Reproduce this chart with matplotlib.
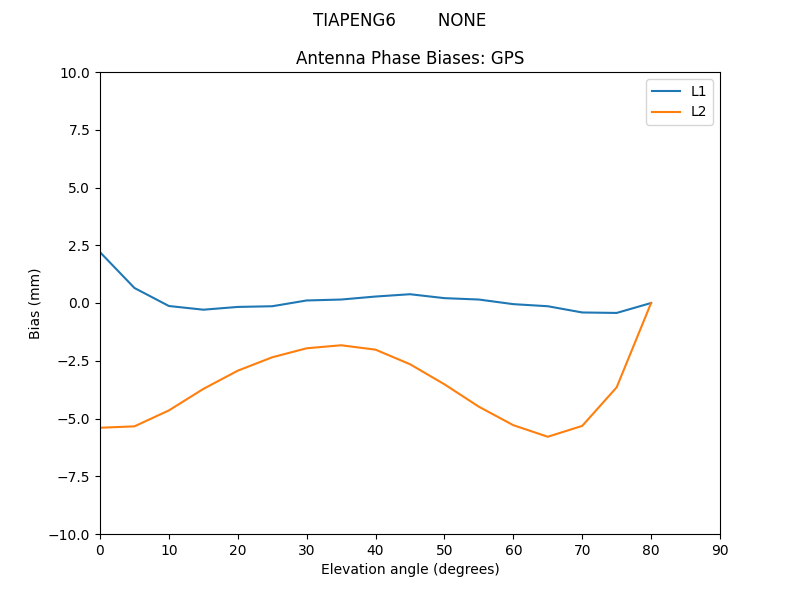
import numpy as np
import matplotlib
matplotlib.use("Agg")
import matplotlib.pyplot as plt

# elevation angles and biases (mm)
elev = [0, 5, 10, 15, 20, 25, 30, 35, 40, 45, 50, 55, 60, 65, 70, 75, 80]
l1 = [2.20, 0.65, -0.13, -0.29, -0.17, -0.14, 0.11, 0.15, 0.28, 0.38,
      0.21, 0.15, -0.05, -0.14, -0.41, -0.43, 0.0]
l2 = [-5.40, -5.34, -4.65, -3.72, -2.93, -2.35, -1.96, -1.83, -2.02, -2.65,
      -3.52, -4.49, -5.29, -5.79, -5.32, -3.65, 0.0]

fig = plt.figure(figsize=(8, 6), dpi=100)
fig.suptitle("TIAPENG6        NONE")
ax = fig.add_subplot(111)
ax.plot(elev, l1, label="L1")
ax.plot(elev, l2, label="L2")
ax.set_title("Antenna Phase Biases: GPS")
ax.set_xlabel("Elevation angle (degrees)")
ax.set_ylabel("Bias (mm)")
ax.set_xlim(0, 90)
ax.set_ylim(-10, 10)
ax.legend(loc="upper right")
fig.savefig("out.png")
